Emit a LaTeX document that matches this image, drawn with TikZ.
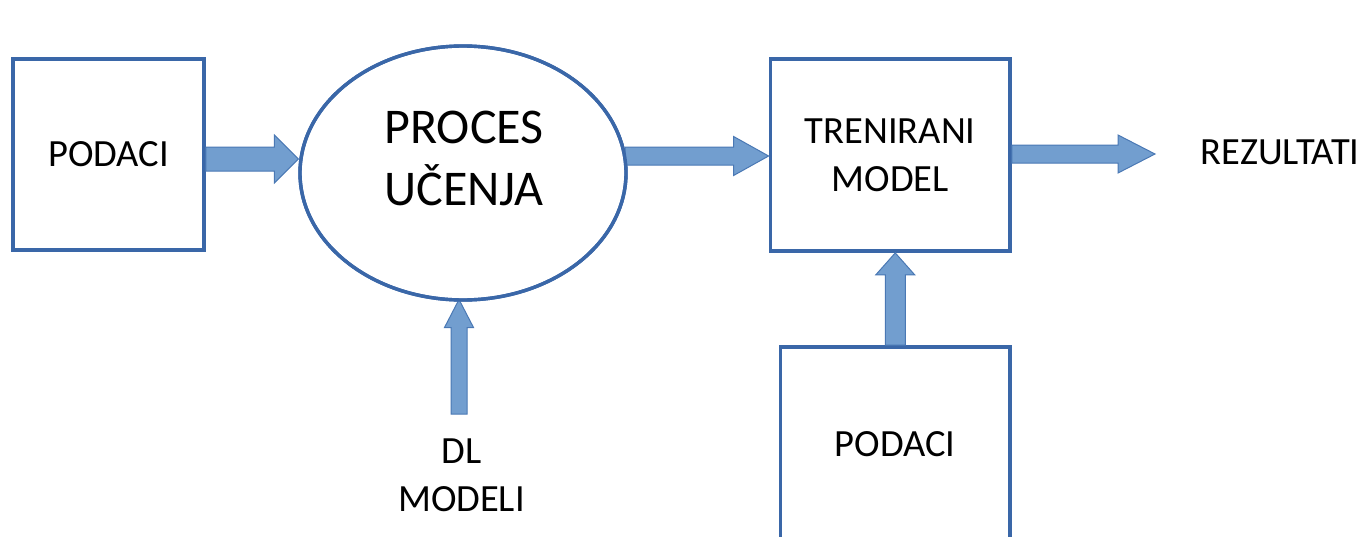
\documentclass[tikz,border=0pt]{standalone}
\usepackage{fontspec}
\setmainfont{Carlito}
\usetikzlibrary{calc,shapes.geometric}

\definecolor{frame}{HTML}{3A67A8}
\definecolor{arrowfill}{HTML}{729ECF}
\definecolor{arrowline}{HTML}{4A78B4}

\tikzset{
  box/.style={draw=frame, line width=3.8pt, rectangle, inner sep=0pt},
  oval/.style={draw=frame, line width=3.4pt, ellipse, inner sep=0pt},
  lbl/.style={font=\fontsize{38.5}{48}\selectfont, align=center, inner sep=0pt, text=black},
  biglbl/.style={font=\fontsize{50}{62}\selectfont, align=center, inner sep=0pt, text=black},
  blockpath/.style={fill=arrowfill, draw=arrowline, line width=1pt, line join=miter}
}

% block arrow: from, to, shaft half width, head half width, head length
\newcommand\blockarrow[5]{%
  \coordinate (hb) at ($(#2)!#5!(#1)$);
  \draw[blockpath] ($(#1)!#3!90:(#2)$) -- ($(hb)!#3!90:(#2)$) -- ($(hb)!#4!90:(#2)$)
    -- (#2) -- ($(hb)!#4!-90:(#2)$) -- ($(hb)!#3!-90:(#2)$) -- ($(#1)!#3!-90:(#2)$) -- cycle;}

\begin{document}
\begin{tikzpicture}[x=1pt, y=-1pt]
  \useasboundingbox (0,0) rectangle (1363,536);
  \clip (0,0) rectangle (1363,536);

  % boxes and the learning process
  \node[box, minimum width=191pt, minimum height=191pt, lbl] (data1) at (108.5,154.5) {PODACI};
  \node[oval, minimum width=326pt, minimum height=254pt] (learn) at (463,173) {};
  \node[biglbl] (learntxt) at (464,158) {PROCES\\UČENJA};
  \node[box, minimum width=239.5pt, minimum height=192pt, lbl] (model) at (890.25,155) {TRENIRANI\\MODEL};
  \node[box, minimum width=229.5pt, minimum height=240pt] (data2) at (895.25,467) {};
  \node[lbl] (data2txt) at (895,444) {PODACI};
  \node[lbl] (results) at (1280,152.5) {REZULTATI};
  \node[lbl] (dl) at (461.5,475.5) {DL\\MODELI};

  % arrow end points
  \coordinate (a1s) at (data1.east |- 0,159);
  \coordinate (a1e) at (learn.west |- 0,159);
  \coordinate (a2s) at (625,156);
  \coordinate (a2e) at (model.west |- 0,156);
  \coordinate (a3s) at (model.east |- 0,154);
  \coordinate (a3e) at (1155,154);
  \coordinate (a4s) at (459,414);
  \coordinate (a4e) at (459,299.5);
  \coordinate (a5s) at (data2.north);
  \coordinate (a5e) at (model.south -| data2.north);

  \blockarrow{a1s}{a1e}{12pt}{24pt}{24pt}
  \blockarrow{a2s}{a2e}{9pt}{19.5pt}{35pt}
  \blockarrow{a3s}{a3e}{9pt}{19pt}{37pt}
  \blockarrow{a4s}{a4e}{8pt}{14.5pt}{28pt}
  \blockarrow{a5s}{a5e}{10pt}{19.5pt}{22pt}

  % outline of the learning process drawn over the arrow tips
  \draw[frame, line width=3.4pt] (learn.center) ellipse [x radius=163pt, y radius=127pt];
\end{tikzpicture}
\end{document}
